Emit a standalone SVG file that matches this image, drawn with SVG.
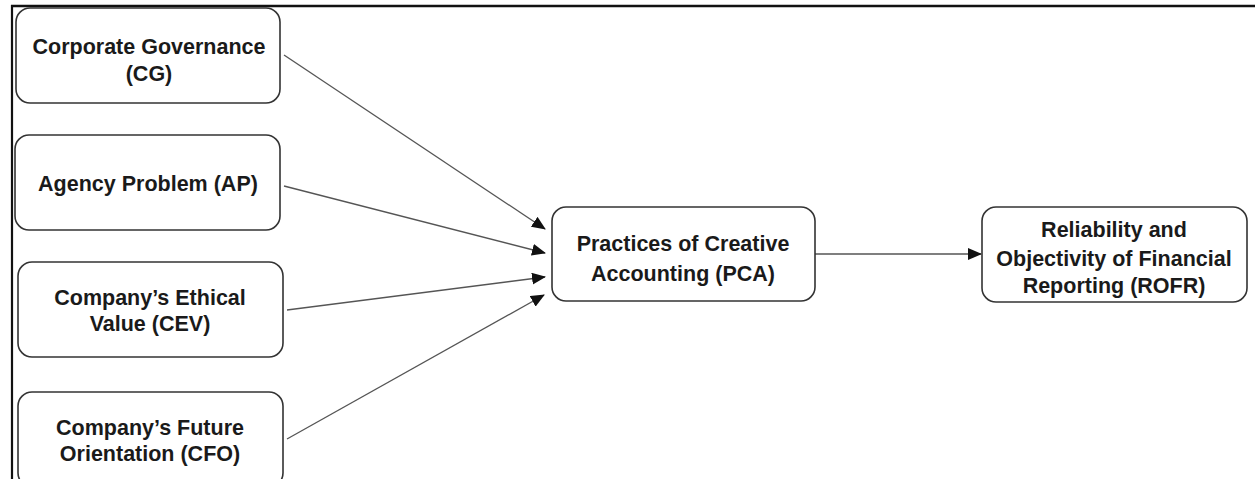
<svg xmlns="http://www.w3.org/2000/svg" width="1255" height="479" viewBox="0 0 1255 479">
<style>
.box{fill:#fff;stroke:#333;stroke-width:1.6}
.lbl{font-family:"Liberation Sans",Arial,sans-serif;font-weight:bold;font-size:21.5px;fill:#1a1a1a;text-anchor:middle}
.con{stroke:#555;stroke-width:1.3;fill:none;marker-end:url(#ah)}
</style>
<defs>
<marker id="ah" markerWidth="14" markerHeight="12" refX="13" refY="6" orient="auto" markerUnits="userSpaceOnUse">
<path d="M0,0 L14,6 L0,12 Z" fill="#111"/>
</marker>
</defs>
<rect width="1255" height="479" fill="#fff"/>
<g id="frame">
<line x1="11" y1="6" x2="1255" y2="6" stroke="#111" stroke-width="2.5"/>
<line x1="12" y1="5" x2="12" y2="479" stroke="#111" stroke-width="2.2"/>
</g>
<g id="connectors">
<line class="con" x1="284" y1="55" x2="545" y2="229"/>
<line class="con" x1="284" y1="186" x2="545" y2="253"/>
<line class="con" x1="287" y1="310" x2="545" y2="277"/>
<line class="con" x1="287" y1="439" x2="544" y2="295"/>
<line class="con" x1="815" y1="254" x2="981" y2="254"/>
</g>
<g id="CG">
<rect class="box" x="16" y="8" width="264" height="95" rx="14"/>
<text class="lbl" x="149" y="54">Corporate Governance</text>
<text class="lbl" x="149" y="81">(CG)</text>
</g>
<g id="AP">
<rect class="box" x="15" y="135" width="265" height="95" rx="14"/>
<text class="lbl" x="148" y="191">Agency Problem (AP)</text>
</g>
<g id="CEV">
<rect class="box" x="18" y="262" width="265" height="95" rx="14"/>
<text class="lbl" x="150" y="305">Company’s Ethical</text>
<text class="lbl" x="150" y="331">Value (CEV)</text>
</g>
<g id="CFO">
<rect class="box" x="18" y="392" width="265" height="95" rx="14"/>
<text class="lbl" x="150" y="435">Company’s Future</text>
<text class="lbl" x="150" y="461">Orientation (CFO)</text>
</g>
<g id="PCA">
<rect class="box" x="552" y="207" width="263" height="94" rx="14"/>
<text class="lbl" x="683" y="251">Practices of Creative</text>
<text class="lbl" x="683" y="281">Accounting (PCA)</text>
</g>
<g id="ROFR">
<rect class="box" x="982" y="207" width="265" height="95" rx="14"/>
<text class="lbl" x="1114" y="237">Reliability and</text>
<text class="lbl" x="1114" y="266">Objectivity of Financial</text>
<text class="lbl" x="1114" y="293">Reporting (ROFR)</text>
</g>
</svg>
